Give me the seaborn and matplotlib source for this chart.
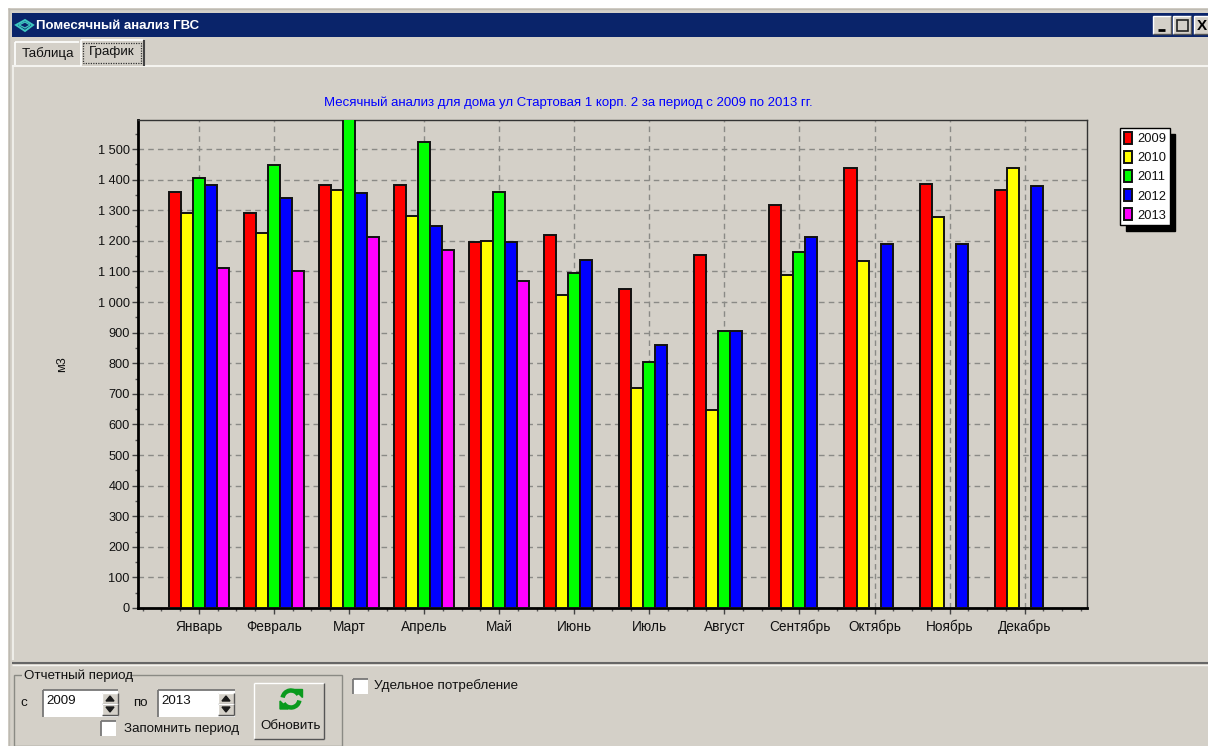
import numpy as np
import pandas as pd
import matplotlib
matplotlib.use("Agg")
import matplotlib.pyplot as plt
from matplotlib.patches import Rectangle, Polygon, Arc
from matplotlib.ticker import MultipleLocator, FuncFormatter
import seaborn as sns

months = ["Январь", "Февраль", "Март", "Апрель", "Май", "Июнь", "Июль", "Август",
          "Сентябрь", "Октябрь", "Ноябрь", "Декабрь"]
years = ["2009", "2010", "2011", "2012", "2013"]
v2009 = [1360, 1290, 1383, 1383, 1195, 1218, 1043, 1153, 1317, 1438, 1387, 1365]
v2010 = [1290, 1225, 1365, 1280, 1200, 1022, 720, 648, 1090, 1133, 1278, 1438]
v2011 = [1405, 1448, 1610, 1522, 1360, 1095, 803, 906, 1165, np.nan, np.nan, np.nan]
v2012 = [1382, 1340, 1355, 1250, 1195, 1138, 860, 906, 1212, 1190, 1190, 1378]
v2013 = [1110, 1100, 1213, 1170, 1070, np.nan, np.nan, np.nan, np.nan, np.nan, np.nan, np.nan]
colors = ["#ff0000", "#ffff00", "#00ff00", "#0000ff", "#ff00ff"]
title = "Месячный анализ для дома ул Стартовая 1 корп. 2 за период с 2009 по 2013 гг."

BG = "#d4d0c8"
W, H = 1208, 746
sns.set_theme(style="white")
plt.rcParams["font.family"] = ["Liberation Sans", "DejaVu Sans"]

df = pd.DataFrame({"month": months * 5,
                   "year": np.repeat(years, 12),
                   "value": v2009 + v2010 + v2011 + v2012 + v2013})

fig = plt.figure(figsize=(W / 100, H / 100), dpi=100, facecolor="white")

# window chrome in pixel coordinates
ch = fig.add_axes([0, 0, 1, 1], zorder=0)
ch.set_xlim(0, W); ch.set_ylim(H, 0); ch.axis("off")
def box(x, y, w, h, fc=BG, ec="none", lw=0, z=1):
    ch.add_patch(Rectangle((x, y), w, h, facecolor=fc, edgecolor=ec, linewidth=lw, zorder=z))
def hline(x0, x1, y, c, lw=1, z=2):
    ch.plot([x0, x1], [y, y], color=c, lw=lw, zorder=z, solid_capstyle="butt")
def vline(x, y0, y1, c, lw=1, z=2):
    ch.plot([x, x], [y0, y1], color=c, lw=lw, zorder=z, solid_capstyle="butt")
def label(x, y, s, size=9.6, c="#111111", **kw):
    ch.text(x, y, s, fontsize=size, color=c, va="center", zorder=5, **kw)
def raised(x, y, w, h, fc=BG):
    box(x, y, w, h, fc=fc, z=3)
    hline(x, x + w, y, "white", z=4); vline(x, y, y + h, "white", z=4)
    hline(x, x + w, y + h, "#555555", z=4); vline(x + w, y, y + h, "#555555", z=4)
def sunken(x, y, w, h):
    box(x, y, w, h, fc="white", z=3)
    hline(x, x + w, y, "#777777", lw=1.3, z=4); vline(x, y, y + h, "#777777", lw=1.3, z=4)
def spin(x, y):
    raised(x, y, 16, 11); raised(x, y + 11, 16, 11)
    ch.add_patch(Polygon([[x + 4, y + 8], [x + 12, y + 8], [x + 8, y + 3]], color="k", zorder=5))
    ch.add_patch(Polygon([[x + 4, y + 14], [x + 12, y + 14], [x + 8, y + 19]], color="k", zorder=5))

box(8, 8, W - 8, H - 8)
hline(8, W, 8.5, "#bdbab2")
vline(8.5, 8, H, "#bdbab2")
box(12, 13, W - 12, 24, fc="#0a246a", z=2)
label(36, 26, "Помесячный анализ ГВС", size=9.5, c="white", fontweight="bold")
# title bar icon
ch.add_patch(Polygon([[16, 25], [25, 20], [33, 25], [25, 31]], fc="none", ec="#3fc8c0", lw=1.4, zorder=5))
ch.add_patch(Polygon([[19, 25], [25, 22], [30, 25], [25, 28]], fc="none", ec="#3fc8c0", lw=0.9, zorder=5))
for x in [1153, 1173, 1194]:
    raised(x, 16, 18, 18)
hline(1158, 1165, 30, "black", lw=2, z=6)
ch.add_patch(Rectangle((1176.5, 20), 11, 11, fc="none", ec="#222222", lw=1.2, zorder=6))
label(1197, 25.5, "X", size=11, c="black", fontweight="bold")
# tabs
hline(12, W, 65.5, "#f4f3ef", lw=1.5)
vline(12.5, 65, 660, "#f4f3ef", lw=1.2)
box(15, 42, 64, 23)
hline(15, 79, 42, "white", lw=1.2); vline(15, 42, 65, "white", lw=1.2)
label(22, 54, "Таблица")
box(81, 40, 62, 26, z=3)
hline(81, 143, 40, "white", lw=1.2, z=4); vline(81, 40, 66, "white", lw=1.2, z=4)
vline(143.5, 40, 66, "#444444", lw=1.5, z=4)
ch.add_patch(Rectangle((83, 43), 58, 20, fc="none", ec="#333333", lw=0.9, ls=(0, (1, 1)), zorder=5))
label(89, 52, "График")
# bottom panel
hline(12, W, 663, "#666666", lw=1.5)
hline(12, W, 665, "#f4f3ef", lw=1)
ch.add_patch(Rectangle((14, 675), 328, 71, fc="none", ec="#8a8a84", lw=1, zorder=2))
box(22, 670, 108, 12, z=3)
label(24, 676, "Отчетный период")
label(20, 703, "с")
sunken(43, 690, 75, 27); label(46, 701, "2009")
spin(102, 693)
label(133, 703, "по")
sunken(158, 690, 77, 27); label(161, 701, "2013")
spin(218, 693)
sunken(101, 721, 15, 15)
label(124, 729, "Запомнить период")
raised(254, 683, 70, 56)
# refresh icon
ch.add_patch(Arc((291, 699), 17, 17, theta1=190, theta2=330, color="#0a9a1e", lw=3.2, zorder=6))
ch.add_patch(Arc((291, 699), 17, 17, theta1=10, theta2=150, color="#0a9a1e", lw=3.2, zorder=6))
ch.add_patch(Polygon([[294, 689], [302, 689], [302, 697]], color="#0a9a1e", zorder=6))
ch.add_patch(Polygon([[280, 701], [288, 709], [280, 709]], color="#0a9a1e", zorder=6))
label(291, 726, "Обновить", ha="center")
sunken(353, 679, 15, 15)
label(374, 686, "Удельное потребление", size=9.7)

# chart
x0, x1, y0, y1 = 138, 1087, 120, 608
ax = fig.add_axes([x0 / W, 1 - y1 / H, (x1 - x0) / W, (y1 - y0) / H], zorder=2)
ax.patch.set_alpha(0)
sns.barplot(data=df, x="month", y="value", hue="year", order=months, hue_order=years,
            palette=colors, width=0.8, saturation=1, gap=0, edgecolor="#111111",
            linewidth=1.4, ax=ax, errorbar=None, zorder=3)
ax.set_xlim(-0.81, 11.83)
ax.set_ylim(0, 1595)
ax.set_xlabel("")
ax.set_ylabel("м3", fontsize=9.2, color="#111111")
ax.yaxis.set_label_coords((68 - x0) / (x1 - x0), 0.5)
ax.yaxis.set_major_locator(MultipleLocator(100))
ax.yaxis.set_minor_locator(MultipleLocator(50))
ax.yaxis.set_major_formatter(FuncFormatter(lambda v, _: f"{int(v):,}".replace(",", " ")))
ax.set_axisbelow(True)
ax.grid(True, axis="both", which="major", color="#8a8a86", lw=1, ls=(0, (4, 3)), zorder=0)
ax.xaxis.set_minor_locator(MultipleLocator(0.25))
ax.tick_params(axis="both", which="major", length=4, width=1, color="#444444",
               labelsize=9.2, labelcolor="#111111", bottom=True, left=True)
ax.tick_params(axis="both", which="minor", length=2, width=1, color="#555555", bottom=True, left=True)
ax.tick_params(axis="y", which="major", pad=2)
ax.tick_params(axis="x", which="major", pad=4.5, labelsize=9.8)
for s in ["top", "right"]:
    ax.spines[s].set_linewidth(1); ax.spines[s].set_color("#333333")
for s in ["left", "bottom"]:
    ax.spines[s].set_linewidth(2); ax.spines[s].set_color("black")

fig.text(568 / W, 1 - 103 / H, title, color="#0000ff", fontsize=9.55, ha="center", va="center")

handles, labels = ax.get_legend_handles_labels()
leg = ax.legend(handles, labels, loc="upper left",
                bbox_to_anchor=(1120 / W, 1 - 128 / H), bbox_transform=fig.transFigure,
                frameon=True, fancybox=False, facecolor="white", edgecolor="black", framealpha=1,
                shadow={"color": "black", "alpha": 1, "ox": 4, "oy": -4},
                fontsize=9.3, handlelength=0.62, handleheight=1.05, handletextpad=0.4,
                labelspacing=0.44, borderpad=0.3, borderaxespad=0, labelcolor="#111111")
leg.get_frame().set_linewidth(1)

fig.savefig("out.png", dpi=100, facecolor="white")
